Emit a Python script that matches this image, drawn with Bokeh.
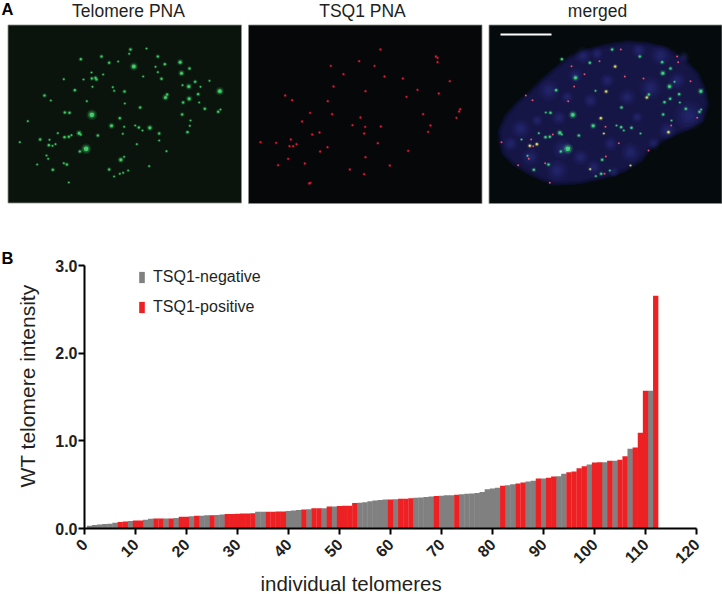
from math import pi
from bokeh.plotting import figure
from bokeh.models import Legend, LegendItem, FixedTicker, Title, NumeralTickFormatter, Range1d
from bokeh.embed import file_html
from bokeh.resources import INLINE
from bokeh.core.properties import value

# ---- panel B data ----
intensity = [0.03,0.04,0.045,0.05,0.055,0.065,0.075,0.08,0.085,0.09,0.09,0.10,0.11,0.115,0.115,0.115,0.115,0.12,
 0.135,0.135,0.14,0.145,0.145,0.15,0.15,0.155,0.16,0.165,0.165,0.168,0.17,0.172,0.175,0.19,0.19,0.19,0.19,0.195,0.195,
 0.20,0.205,0.21,0.217,0.22,0.23,0.23,0.23,0.25,0.25,0.258,0.26,0.26,0.29,0.295,0.30,0.31,0.32,0.325,0.33,0.33,0.335,
 0.338,0.34,0.345,0.35,0.355,0.36,0.365,0.37,0.375,0.378,0.38,0.385,0.39,0.395,0.40,0.405,0.415,0.449,0.456,0.464,
 0.487,0.494,0.506,0.513,0.525,0.536,0.544,0.57,0.57,0.578,0.593,0.597,0.624,0.643,0.65,0.688,0.711,0.73,0.753,0.757,
 0.757,0.772,0.772,0.783,0.825,0.909,0.924,1.091,1.57,1.57,2.654]
tsq1_positive = {7,8,10,11,14,15,17,19,20,22,25,28,29,30,31,32,33,36,37,38,39,43,45,46,48,50,51,52,53,60,62,63,64,69,73,
 82,85,86,89,91,92,95,96,97,98,100,101,103,105,106,108,109,110,112}
x_ticks = [0,10,20,30,40,50,60,70,80,90,100,110,120]
y_ticks = [0,1,2,3]

telomere_spots = [(390,147,1),(438,144,0),(386,160,0),(303,168,1),(472,168,1),(241,176,1),(326,187,1),(353,183,0),(493,191,1),(539,185,2),
 (400,198,3),(465,199,0),(567,204,1),(543,218,2),(472,215,0),(273,216,0),(308,222,0),(428,228,0),(285,232,1),(274,234,1),(288,237,1),
 (483,235,1),(190,236,0),(249,237,0),(584,244,1),(627,241,0),(546,254,0),(565,258,2),(600,259,0),(337,260,0),(276,259,0),(223,269,1),
 (341,271,0),(372,273,1),(658,272,3),(500,282,1),(132,285,1),(495,291,2),(593,281,1),(566,295,2),(151,300,0),(259,302,0),(548,306,1),
 (596,306,0),(373,309,0),(419,321,1),(613,325,1),(660,327,0),(653,334,1),(193,336,1),(207,337,1),(274,343,4),(545,342,1),(358,353,1),
 (570,360,0),(82,362,0),(333,376,2),(404,375,0),(415,381,1),(371,379,0),(448,382,2),(426,390,0),(568,376,0),(561,395,1),(236,398,2),
 (241,403,0),(172,398,0),(292,405,1),(367,400,0),(476,399,1),(192,410,1),(205,409,1),(213,404,0),(119,417,1),(147,418,0),(58,425,0),
 (476,420,0),(409,431,0),(145,434,1),(156,436,0),(165,431,0),(257,445,4),(238,453,1),(498,452,0),(138,465,0),(371,469,0),(361,478,2),
 (143,475,0),(110,492,0),(190,488,0),(199,492,1),(446,497,0),(157,508,1),(326,507,1),(383,510,0),(368,517,0),(358,520,0),(341,528,0),(205,546,0)]
tsq1_spots = [(420,147),(586,168),(591,172),(591,185),(356,182),(271,196),(402,196),(309,221),(432,228),(487,234),(628,242),(279,258),
 (375,272),(595,279),(531,268),(134,285),(498,289),(155,299),(262,302),(659,326),(656,333),(209,337),(275,341),(548,341),(648,352),
 (360,351),(185,363),(336,374),(374,379),(421,378),(570,375),(563,394),(371,399),(237,396),(215,402),(151,417),(60,425),(412,428),
 (168,431),(158,437),(147,437),(261,440),(239,453),(503,451),(375,470),(143,475),(193,489),(113,494),(448,495),(328,507),(371,521),
 (206,549),(210,547),(107,427)]
nucleus_x = [60,58,75,110,150,185,225,270,320,380,440,500,560,610,650,670,680,665,620,560,510,480,430,370,300,220,150,100,70]
nucleus_y = [425,390,350,310,275,240,205,170,150,135,125,130,145,180,220,265,310,360,385,410,440,480,510,530,545,550,520,490,460]
dapi_blobs = [(307,165,34),(285,225,30),(245,445,40),(235,352,30),(400,515,22),(230,510,44),(540,165,42),(625,345,60),(510,262,46),
 (205,270,44),(120,385,40),(450,455,40),(350,160,26),(440,290,36),(170,360,24),(330,300,30),(390,430,30),(560,390,36),(475,150,30),
 (150,470,36),(300,470,34),(380,240,30),(590,240,36),(520,430,26),(90,430,30),(340,500,30),(470,350,24),(610,170,24),(260,290,26)]
merged_green = [(244,176,1),(395,147,1),(478,168,1),(328,187,1),(545,185,1),(547,218,2),(570,204,1),(285,232,2),(227,269,1),(345,271,0),
 (661,272,2),(505,282,1),(567,258,2),(582,244,0),(569,295,1),(596,281,1),(552,305,1),(598,306,0),(423,321,1),(616,325,1),(662,327,0),
 (657,334,1),(196,336,0),(210,337,1),(277,343,3),(548,342,1),(338,376,2),(408,375,0),(422,380,1),(453,382,1),(430,390,0),(573,360,0),
 (238,397,2),(244,402,0),(175,398,0),(295,405,1),(480,399,0),(195,410,1),(208,409,1),(123,417,0),(262,445,4),(241,453,1),(141,466,0),
 (365,478,1),(204,492,1),(160,508,1),(362,520,1),(346,527,0),(388,510,0)]
merged_yellow = [(404,198,1),(377,273,1),(499,291,1),(361,353,1),(564,395,1),(370,399,0),(148,436,1),(169,431,1),(450,495,0),(329,506,0)]
merged_red = [(421,147),(590,168),(593,185),(357,182),(273,197),(312,221),(433,228),(489,234),(630,242),(281,258),(136,285),(156,299),
 (263,302),(650,352),(572,375),(375,379),(152,417),(63,425),(415,428),(158,437),(376,468),(145,475),(194,488),(113,494),(372,520),
 (208,547),(217,402),(504,450)]

panel_titles = ["Telomere PNA", "TSQ1 PNA", "merged"]
legend_labels = ["TSQ1-negative", "TSQ1-positive"]
x_title = "individual telomeres"
y_title = "WT telomere intensity"

FONT = "Liberation Sans"
TXT = "#231f20"
GREY, RED = "#808080", "#ed2024"

TOP_H = 218
top = figure(width=722, height=TOP_H, x_range=Range1d(0, 722), y_range=Range1d(TOP_H, 0),
             toolbar_location=None, output_backend="svg", min_border=0, outline_line_color=None,
             x_axis_type=None, y_axis_type=None)
top.grid.visible = False

def zx(o, v): return [o + a / 3 for a in v]
def zy(v): return [a / 3 for a in v]

SIZE = [1.6, 2.2, 3.0, 3.8, 4.8]

def spots(ox, data, color):
    xs = zx(ox, [s[0] for s in data]); ys = zy([s[1] for s in data])
    sz = [SIZE[s[2]] for s in data]
    top.scatter(xs, ys, size=[a * 2.3 for a in sz], color=color, alpha=0.12, line_color=None)
    top.scatter(xs, ys, size=[a * 1.6 for a in sz], color=color, alpha=0.28, line_color=None)
    top.scatter(xs, ys, size=sz, color=color, alpha=0.9, line_color=None)

top.quad(left=[7.5, 248, 488.5], right=[241, 481.5, 721.5], top=[24.5, 24.5, 24.5], bottom=[202.5, 203, 203],
         fill_color=["#0a130c", "#060709", "#050a0d"], line_color="#8a8f8c", line_width=0.8)

spots(0, telomere_spots, "#45d96c")
core_x = zx(240, [s[0] for s in tsq1_spots]); core_y = zy([s[1] for s in tsq1_spots])
top.scatter(core_x, core_y, size=3.4, color="#c01030", alpha=0.35, line_color=None)
top.scatter(core_x, core_y, size=1.8, color="#e0203a", line_color=None)

nx, ny = zx(480, nucleus_x), zy(nucleus_y)
top.patch(nx, ny, fill_color="#151546", line_color="#10113a", line_width=4, line_alpha=0.7)
bx, by = zx(480, [b[0] for b in dapi_blobs]), zy([b[1] for b in dapi_blobs])
for scale, alpha in ((1.5, 0.08), (1.15, 0.09), (0.8, 0.11), (0.45, 0.13)):
    top.scatter(bx, by, size=[b[2] / 3 * scale for b in dapi_blobs], color="#3a3eaa", alpha=alpha, line_color=None)
spots(480, merged_green, "#40e080")
spots(480, merged_yellow, "#e8f070")
top.scatter(zx(480, [s[0] for s in merged_red]), zy([s[1] for s in merged_red]), size=2.0, color="#e8506a", line_color=None)
top.line([500, 551], [34, 34], line_color="white", line_width=2.2)

top.text([128, 362, 597], [10.5, 10.5, 10.5], text=panel_titles, text_font=value(FONT), text_font_size="17.5px",
         text_color=TXT, text_align="center", text_baseline="middle")
top.text([1], [8], text=["A"], text_font=value(FONT), text_font_size="16.5px", text_font_style="bold",
         text_color="black", text_align="left", text_baseline="middle")

BOT_H = 596 - TOP_H
FL, FB = 84, 528
p = figure(width=722, height=BOT_H, x_range=Range1d(0, 120), y_range=Range1d(0, 3),
           toolbar_location=None, output_backend="svg", outline_line_color=None,
           min_border_left=FL, min_border_right=26, min_border_top=265 - TOP_H, min_border_bottom=596 - FB)
p.grid.visible = False
idx = list(range(1, len(intensity) + 1))
neg_x = [i for i in idx if i not in tsq1_positive]
neg_y = [intensity[i - 1] for i in neg_x]
pos_x = [i for i in idx if i in tsq1_positive]
pos_y = [intensity[i - 1] for i in pos_x]
r_neg = p.vbar(x=neg_x, top=neg_y, bottom=0, width=1.08, fill_color=GREY, line_color=None)
r_pos = p.vbar(x=pos_x, top=pos_y, bottom=0, width=1.04, fill_color=RED, line_color=None)

legend = Legend(items=[LegendItem(label=legend_labels[0], renderers=[r_neg]),
                       LegendItem(label=legend_labels[1], renderers=[r_pos])],
                location=(54, 212), orientation="vertical", background_fill_alpha=0, border_line_color=None,
                padding=0, margin=0, spacing=12, glyph_width=7, glyph_height=14, label_standoff=8,
                label_text_font=FONT, label_text_font_size="16px", label_text_color=TXT, label_height=14)
p.add_layout(legend)

xa, ya = p.xaxis[0], p.yaxis[0]
xa.ticker = FixedTicker(ticks=x_ticks)
ya.ticker = FixedTicker(ticks=y_ticks)
ya.formatter = NumeralTickFormatter(format="0.0")
for a in (xa, ya):
    a.axis_line_width = 2
    a.axis_line_color = "black"
    a.major_tick_line_width = 2
    a.major_tick_line_color = "black"
    a.major_tick_in = 0
    a.major_tick_out = 6
    a.minor_tick_line_color = None
    a.major_label_text_font = FONT
    a.major_label_text_font_style = "bold"
    a.major_label_text_font_size = "16px"
    a.major_label_text_color = TXT
xa.major_label_orientation = pi / 4
xa.major_label_standoff = 7
ya.major_label_standoff = 1

p.add_layout(Title(text=x_title, align="left", offset=260 - FL, standoff=-4, text_font=FONT, text_font_size="20.5px",
                   text_font_style="normal", text_color=TXT), "below")
p.add_layout(Title(text=y_title, align="left", offset=FB - 487, standoff=27, text_font=FONT, text_font_size="21px",
                   text_font_style="normal", text_color=TXT), "left")
p.add_layout(Title(text="B", align="left", offset=1 - FL, standoff=-3, text_font=FONT, text_font_size="16.5px",
                   text_font_style="bold", text_color="black"), "above")

open("out.html", "w").write(file_html([top, p], INLINE))
